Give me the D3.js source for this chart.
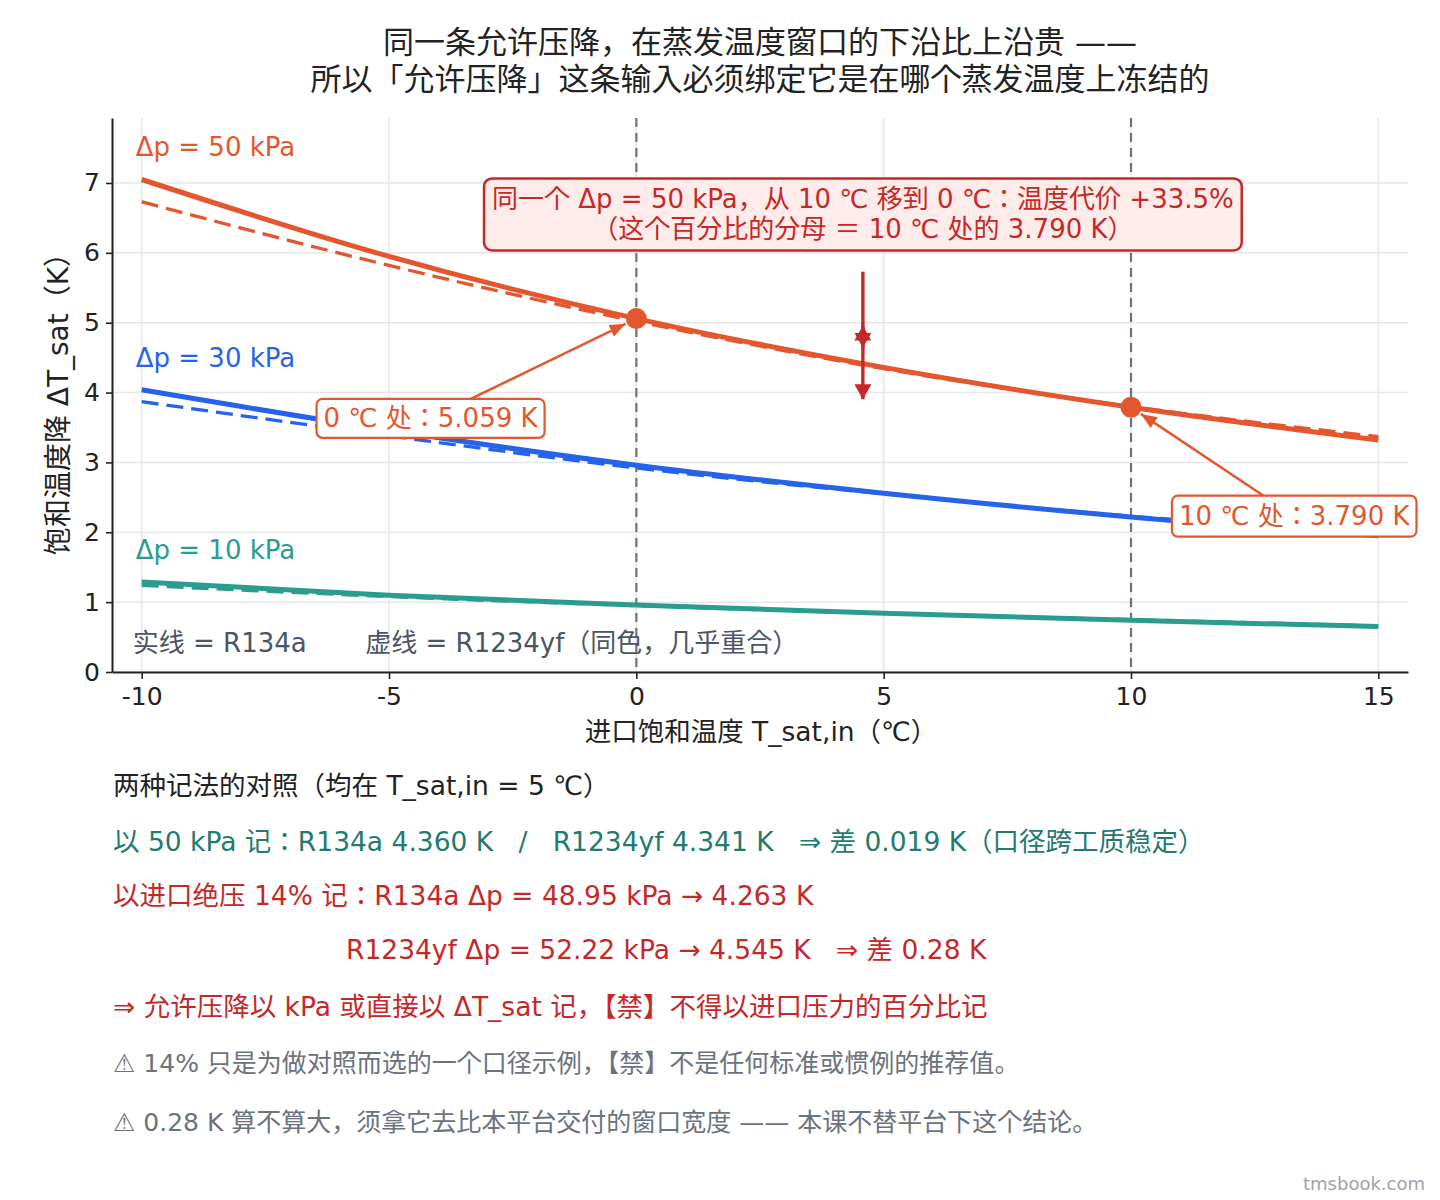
<!DOCTYPE html>
<html>
<head>
<meta charset="utf-8">
<script src="https://cdn.jsdelivr.net/npm/d3@7"></script>
<style>
  html, body { margin: 0; padding: 0; background: #fff; }
  svg { display: block; font-family: "DejaVu Sans", "Noto Sans CJK JP", sans-serif; }
  text { white-space: pre; }
</style>
</head>
<body>
<svg id="chart" width="1440" height="1200"></svg>
<script>
'use strict';

// inlet saturation temperature (°C)
const temps = [-10, -5, 0, 5, 10, 15];

// saturation temperature drop (K)
const r134a50 = [7.05, 5.95, 5.059, 4.360, 3.790, 3.32];
const r1234yf50 = [6.73, 5.82, 5.02, 4.341, 3.80, 3.37];
const r134a30 = [4.04, 3.46, 2.96, 2.56, 2.22, 1.95];
const r1234yf30 = [3.87, 3.38, 2.92, 2.55, 2.23, 1.98];
const r134a10 = [1.29, 1.10, 0.96, 0.84, 0.74, 0.65];
const r1234yf10 = [1.24, 1.08, 0.95, 0.84, 0.75, 0.66];

const seriesNames = ["Δp = 50 kPa", "Δp = 30 kPa", "Δp = 10 kPa"];
const seriesColors = ["#e4572e", "#2563eb", "#2a9d8f"];

const xTicks = [-10, -5, 0, 5, 10, 15];
const yTicks = [0, 1, 2, 3, 4, 5, 6, 7];
const markTemps = [0, 10];
const markValues = [5.059, 3.790];

const titleLines = [
  "同一条允许压降，在蒸发温度窗口的下沿比上沿贵 ——",
  "所以「允许压降」这条输入必须绑定它是在哪个蒸发温度上冻结的"
];

const WIDTH = 1440;
const margin = {top: 118, right: 32, left: 112},
  plotBottom = 672,
  width = WIDTH - margin.left - margin.right,
  height = plotBottom - margin.top;

const RED = "#e4572e", DARKRED = "#c62828", GRID = "#e5e7eb", INK = "#222";

let svg = d3.select("#chart");
svg.append("rect").attr("width", WIDTH).attr("height", 1200).attr("fill", "#fff");

let x = d3.scaleLinear().domain([-10.6, 15.6]).range([margin.left, margin.left + width]);
let y = d3.scaleLinear().domain([0, 7.93]).range([plotBottom, margin.top]);

// grid
let grid = svg.append("g");
grid.selectAll(".gx").data(xTicks).enter().append("line")
  .attr("x1", d => x(d)).attr("x2", d => x(d))
  .attr("y1", margin.top).attr("y2", plotBottom)
  .attr("stroke", GRID).attr("stroke-width", 1.5);
grid.selectAll(".gy").data(yTicks).enter().append("line")
  .attr("x1", margin.left).attr("x2", margin.left + width)
  .attr("y1", d => y(d)).attr("y2", d => y(d))
  .attr("stroke", GRID).attr("stroke-width", 1.5);

// vertical reference lines at 0 and 10 °C
svg.append("g").selectAll("line").data(markTemps).enter().append("line")
  .attr("x1", d => x(d)).attr("x2", d => x(d))
  .attr("y1", margin.top).attr("y2", plotBottom)
  .attr("stroke", "#6b7280").attr("stroke-width", 2.2)
  .attr("stroke-dasharray", "9,6");

// curves
let line = d3.line()
  .x((d, i) => x(temps[i]))
  .y(d => y(d))
  .curve(d3.curveMonotoneX);

let solid = [r134a50, r134a30, r134a10];
let dashed = [r1234yf50, r1234yf30, r1234yf10];

let curves = svg.append("g").attr("fill", "none").attr("stroke-linecap", "butt");
dashed.forEach((s, i) => {
  curves.append("path").attr("d", line(s))
    .attr("stroke", seriesColors[i]).attr("stroke-width", 3.3)
    .attr("stroke-dasharray", "17,8");
});
solid.forEach((s, i) => {
  curves.append("path").attr("d", line(s))
    .attr("stroke", seriesColors[i]).attr("stroke-width", 5);
});

// series labels, just above the start of each curve
svg.append("g").selectAll("text").data(seriesNames).enter().append("text")
  .attr("x", x(-10.12))
  .attr("y", (d, i) => y(solid[i][0] + 0.46))
  .attr("dominant-baseline", "central")
  .attr("font-size", 26)
  .attr("fill", (d, i) => seriesColors[i])
  .text(d => d);

// axes
let xAxis = svg.append("g")
  .attr("transform", "translate(0," + plotBottom + ")")
  .call(d3.axisBottom(x).tickValues(xTicks).tickFormat(d => String(d)).tickSize(7).tickSizeOuter(0).tickPadding(8));
let yAxis = svg.append("g")
  .attr("transform", "translate(" + margin.left + ",0)")
  .call(d3.axisLeft(y).tickValues(yTicks).tickFormat(d => String(d)).tickSize(6).tickSizeOuter(0).tickPadding(6));

[xAxis, yAxis].forEach(a => {
  a.select(".domain").attr("stroke", INK).attr("stroke-width", 2);
  a.selectAll(".tick line").attr("stroke", INK).attr("stroke-width", 1.6);
  a.selectAll(".tick text").attr("fill", INK).attr("font-size", 25)
    .attr("font-family", "\"DejaVu Sans\", sans-serif");
});

svg.append("text")
  .attr("x", margin.left + width / 2 + 1).attr("y", 731)
  .attr("text-anchor", "middle").attr("dominant-baseline", "central")
  .attr("font-size", 26.5).attr("fill", INK)
  .text("进口饱和温度 T_sat,in（℃）");

svg.append("text")
  .attr("transform", "translate(58," + 397 + ") rotate(-90)")
  .attr("text-anchor", "middle").attr("dominant-baseline", "central")
  .attr("font-size", 28).attr("fill", INK)
  .text("饱和温度降 ΔT_sat（K）");

// title
svg.append("g").selectAll("text").data(titleLines).enter().append("text")
  .attr("x", margin.left + width / 2)
  .attr("y", (d, i) => 42 + i * 37)
  .attr("text-anchor", "middle").attr("dominant-baseline", "central")
  .attr("font-size", 31).attr("fill", INK)
  .text(d => d);

// solid / dashed note
let note = svg.append("g").attr("font-size", 26).attr("fill", "#4b5563");
note.append("text").attr("x", x(-10.18)).attr("y", y(0.42)).attr("dominant-baseline", "central").text("实线 = R134a");
note.append("text").attr("x", x(-5.48)).attr("y", y(0.42)).attr("dominant-baseline", "central").text("虚线 = R1234yf（同色，几乎重合）");

// markers
let defs = svg.append("defs");
let addHead = function(id, color, w, l) {
  defs.append("marker")
    .attr("id", id).attr("viewBox", "0 0 " + l + " " + w)
    .attr("refX", l).attr("refY", w / 2)
    .attr("markerWidth", l).attr("markerHeight", w)
    .attr("markerUnits", "userSpaceOnUse")
    .attr("orient", "auto-start-reverse")
    .append("path").attr("d", "M0,0L" + l + "," + (w / 2) + "L0," + w + "Z").attr("fill", color);
};
addHead("headRed", RED, 13, 16);
addHead("headDark", DARKRED, 17, 15);

// text box helper: draws lines centred at (cx, cy) and a rounded box around them
let textBox = function(lines, cx, cy, opt) {
  let g = svg.append("g");
  let rect = g.append("rect");
  let lh = opt.lineHeight || 30;
  let texts = g.selectAll("text").data(lines).enter().append("text")
    .attr("x", cx)
    .attr("y", (d, i) => cy + (i - (lines.length - 1) / 2) * lh)
    .attr("text-anchor", "middle").attr("dominant-baseline", "central")
    .attr("font-size", opt.size).attr("fill", opt.color)
    .text(d => d);
  let w = d3.max(texts.nodes(), n => n.getComputedTextLength()) + opt.padX * 2;
  let h = lh * lines.length + opt.padY * 2;
  rect.attr("x", cx - w / 2).attr("y", cy - h / 2).attr("width", w).attr("height", h)
    .attr("rx", opt.rx).attr("fill", opt.fill).attr("stroke", opt.stroke).attr("stroke-width", opt.strokeWidth);
  return {x0: cx - w / 2, x1: cx + w / 2, y0: cy - h / 2, y1: cy + h / 2, cx: cx, cy: cy};
};

// arrow from box edge to a point, stopping short of the marker dot
let boxArrow = function(box, px, py, color, head) {
  let dx = px - box.cx, dy = py - box.cy;
  let tx = dx !== 0 ? ((dx > 0 ? box.x1 : box.x0) - box.cx) / dx : Infinity;
  let ty = dy !== 0 ? ((dy > 0 ? box.y1 : box.y0) - box.cy) / dy : Infinity;
  let t = Math.min(tx, ty);
  let sx = box.cx + dx * t, sy = box.cy + dy * t;
  let len = Math.hypot(px - sx, py - sy);
  let ex = px - (px - sx) / len * 12, ey = py - (py - sy) / len * 12;
  svg.append("line").attr("x1", sx).attr("y1", sy).attr("x2", ex).attr("y2", ey)
    .attr("stroke", color).attr("stroke-width", 2.5).attr("marker-end", "url(#" + head + ")");
};

// big annotation + vertical arrows
const bigX = 4.58;
svg.append("line")
  .attr("x1", x(bigX)).attr("x2", x(bigX))
  .attr("y1", y(5.73)).attr("y2", y(4.64))
  .attr("stroke", DARKRED).attr("stroke-width", 3.4)
  .attr("marker-end", "url(#headDark)");
svg.append("line")
  .attr("x1", x(bigX)).attr("x2", x(bigX))
  .attr("y1", y(markValues[0]) + 7).attr("y2", y(markValues[1]) - 8)
  .attr("stroke", DARKRED).attr("stroke-width", 3.4)
  .attr("marker-start", "url(#headDark)").attr("marker-end", "url(#headDark)");

textBox(["同一个 Δp = 50 kPa，从 10 ℃ 移到 0 ℃：温度代价 +33.5%",
         "（这个百分比的分母 ＝ 10 ℃ 处的 3.790 K）"],
  x(bigX), y(6.55),
  {size: 26, color: DARKRED, fill: "#fdecea", stroke: DARKRED, strokeWidth: 2.5, rx: 8, padX: 8, padY: 6, lineHeight: 30});

// points
svg.append("g").selectAll("circle").data(markTemps).enter().append("circle")
  .attr("cx", d => x(d)).attr("cy", (d, i) => y(markValues[i]))
  .attr("r", 10.5).attr("fill", RED);

let box0 = textBox(["0 ℃ 处：5.059 K"], x(-4.16), y(3.63),
  {size: 26, color: RED, fill: "#fff", stroke: RED, strokeWidth: 2.2, rx: 6, padX: 7, padY: 4, lineHeight: 31});
boxArrow(box0, x(markTemps[0]), y(markValues[0]), RED, "headRed");

let box10 = textBox(["10 ℃ 处：3.790 K"], x(13.3), y(2.23),
  {size: 26, color: RED, fill: "#fff", stroke: RED, strokeWidth: 2.2, rx: 6, padX: 7, padY: 5, lineHeight: 31});
boxArrow(box10, x(markTemps[1]), y(markValues[1]), RED, "headRed");

// notes under the chart
const notes = [
  {x: 113, y: 785, size: 26.5, color: "#222", text: "两种记法的对照（均在 T_sat,in = 5 ℃）"},
  {x: 113, y: 841, size: 26.5, color: "#237a6e", text: "以 50 kPa 记：R134a 4.360 K   /   R1234yf 4.341 K   ⇒ 差 0.019 K（口径跨工质稳定）"},
  {x: 113, y: 895, size: 26.5, color: DARKRED, text: "以进口绝压 14% 记：R134a Δp = 48.95 kPa → 4.263 K"},
  {x: 346, y: 949, size: 26.5, color: DARKRED, text: "R1234yf Δp = 52.22 kPa → 4.545 K   ⇒ 差 0.28 K"},
  {x: 113, y: 1006, size: 26.5, color: DARKRED, text: "⇒ 允许压降以 kPa 或直接以 ΔT_sat 记，【禁】不得以进口压力的百分比记"},
  {x: 113, y: 1063, size: 25, color: "#6b7280", text: "⚠ 14% 只是为做对照而选的一个口径示例，【禁】不是任何标准或惯例的推荐值。"},
  {x: 113, y: 1122, size: 25, color: "#6b7280", text: "⚠ 0.28 K 算不算大，须拿它去比本平台交付的窗口宽度 —— 本课不替平台下这个结论。"}
];
svg.append("g").selectAll("text").data(notes).enter().append("text")
  .attr("x", d => d.x).attr("y", d => d.y)
  .attr("dominant-baseline", "central")
  .attr("font-size", d => d.size).attr("fill", d => d.color)
  .text(d => d.text);

svg.append("text")
  .attr("x", 1425).attr("y", 1183)
  .attr("text-anchor", "end").attr("dominant-baseline", "central")
  .attr("font-size", 18).attr("fill", "#9ca3af")
  .text("tmsbook.com");
</script>
</body>
</html>
